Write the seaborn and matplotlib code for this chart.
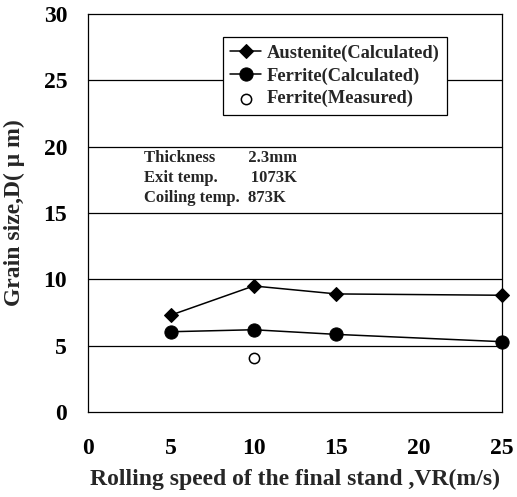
import matplotlib
matplotlib.use("Agg")
import matplotlib.pyplot as plt
import seaborn as sns
import pandas as pd

# Rolling speed of the final stand (m/s)
speed = [5, 10, 15, 25]
austenite_calc = [7.3, 9.5, 8.9, 8.8]
ferrite_calc = [6.05, 6.2, 5.85, 5.3]
measured_speed = [10]
ferrite_measured = [4.1]

x_ticks = [0, 5, 10, 15, 20, 25]
y_ticks = [0, 5, 10, 15, 20, 25, 30]

sns.set_style("white")
plt.rcParams["font.family"] = ["Liberation Serif", "DejaVu Serif"]
plt.rcParams["font.weight"] = "bold"

calc = pd.DataFrame({
    "speed": speed * 2,
    "D": austenite_calc + ferrite_calc,
    "series": ["Austenite(Calculated)"] * len(speed) + ["Ferrite(Calculated)"] * len(speed),
})
meas = pd.DataFrame({"speed": measured_speed, "D": ferrite_measured})

fig = plt.figure(figsize=(5.17, 4.97), dpi=100)
ax = fig.add_axes([88 / 517, 1 - 412 / 497, 414 / 517, 398 / 497])

for yv in y_ticks[1:-1]:
    ax.axhline(yv, color="black", lw=0.9, zorder=0)

sns.lineplot(data=calc, x="speed", y="D", hue="series", style="series",
             markers={"Austenite(Calculated)": "D", "Ferrite(Calculated)": "o"},
             dashes=False, palette=["black", "black"], ax=ax, lw=1.1,
             markeredgecolor="black", zorder=3)


def size_markers(lines):
    for ln in lines:
        if ln.get_marker() == "D":
            ln.set_markersize(7.5)
        elif ln.get_marker() == "o":
            ln.set_markersize(9.5)


size_markers(ax.get_lines())
for ln in ax.get_lines():
    ln.set_clip_on(False)

sns.scatterplot(data=meas, x="speed", y="D", marker="o", s=55,
                facecolor="white", edgecolor="black", linewidth=1.1,
                ax=ax, zorder=4, label="Ferrite(Measured)", clip_on=False)

ax.set_xlim(0, 25)
ax.set_ylim(0, 30)
ax.set_xticks(x_ticks)
ax.set_yticks(y_ticks)
ax.tick_params(axis="x", direction="in", length=9, width=0.9, pad=19,
               labelsize=17, colors="black")
ax.tick_params(axis="y", length=0, pad=15, labelsize=17, colors="black")
for sp in ax.spines.values():
    sp.set_visible(True)
    sp.set_color("black")
    sp.set_linewidth(0.9)

ax.set_xlabel("Rolling speed of the final stand ,VR(m/s)", fontsize=17,
              fontweight="bold", labelpad=7)
ax.set_ylabel("Grain size,D( μ m)", fontsize=17, fontweight="bold", labelpad=13)

handles, labels = ax.get_legend_handles_labels()
size_markers([h for h in handles if hasattr(h, "get_marker")])
leg = ax.legend(handles, labels, loc="upper left", bbox_to_anchor=(0.325, 0.942),
                frameon=True, fancybox=False, edgecolor="black", framealpha=1,
                prop={"family": "Liberation Serif", "weight": "bold", "size": 13.3},
                handlelength=1.7, handletextpad=0.3, borderpad=0.4,
                labelspacing=0.3, borderaxespad=0)
leg.get_frame().set_linewidth(0.9)

ax.text(0.135, 0.658, "Thickness        2.3mm\nExit temp.        1073K\nCoiling temp.  873K",
        transform=ax.transAxes, fontsize=12, fontweight="bold", va="top",
        ha="left", linespacing=1.33)

fig.savefig("out.png", dpi=100)
